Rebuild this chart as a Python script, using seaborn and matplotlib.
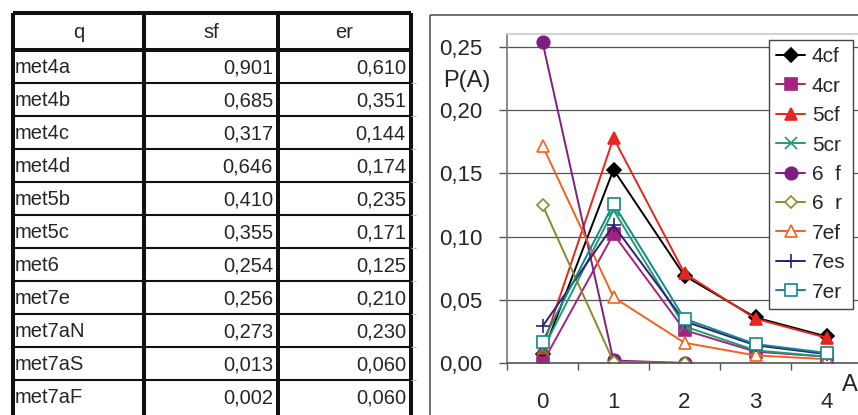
import numpy as np
import pandas as pd
import matplotlib
matplotlib.use("Agg")
import matplotlib.pyplot as plt
from matplotlib.patches import Rectangle
import seaborn as sns

# table data
q_names = ["met4a", "met4b", "met4c", "met4d", "met5b", "met5c",
           "met6", "met7e", "met7aN", "met7aS", "met7aF"]
sf_vals = ["0,901", "0,685", "0,317", "0,646", "0,410", "0,355",
           "0,254", "0,256", "0,273", "0,013", "0,002"]
er_vals = ["0,610", "0,351", "0,144", "0,174", "0,235", "0,171",
           "0,125", "0,210", "0,230", "0,060", "0,060"]

# chart data: P(A) per A
a_vals = [0, 1, 2, 3, 4]
p_4cf = [0.007, 0.153, 0.069, 0.036, 0.021]
p_4cr = [0.000, 0.102, 0.026, 0.009, 0.005]
p_5cf = [0.012, 0.178, 0.071, 0.035, 0.020]
p_5cr = [0.010, 0.121, 0.029, 0.010, 0.005]
p_6f = [0.254, 0.002, 0.000, np.nan, np.nan]
p_6r = [0.125, 0.001, 0.000, np.nan, np.nan]
p_7ef = [0.172, 0.052, 0.016, 0.006, 0.003]
p_7es = [0.029, 0.109, 0.033, 0.014, 0.007]
p_7er = [0.017, 0.126, 0.035, 0.015, 0.008]

series = [
    ("4cf", p_4cf, "#000000", "D", True, 7),
    ("4cr", p_4cr, "#A3237F", "s", True, 8),
    ("5cf", p_5cf, "#E8251C", "^", True, 9),
    ("5cr", p_5cr, "#1E9E70", "x", True, 8),
    ("6  f", p_6f, "#7D1F80", "o", True, 9),
    ("6  r", p_6r, "#8A8A2A", "D", False, 6),
    ("7ef", p_7ef, "#F2621F", "^", False, 9),
    ("7es", p_7es, "#2E207A", "+", True, 10),
    ("7er", p_7er, "#11898C", "s", False, 9),
]

sns.set_theme(style="white")
plt.rcParams["font.family"] = ["Liberation Sans", "DejaVu Sans"]

W, H = 858, 415
fig = plt.figure(figsize=(W / 100, H / 100), dpi=100)

# ---- table drawn in pixel coordinates
tab = fig.add_axes([0, 0, 1, 1])
tab.set_xlim(0, W)
tab.set_ylim(H, 0)
tab.axis("off")

col_x = [13, 144, 278, 411]
head_top, head_bot = 13, 50
row_h = 33.0
row_lines = [head_bot + row_h * (i + 1) for i in range(len(q_names) - 1)]

tab.vlines(col_x, head_top, H, color="#111111", lw=2.9)
tab.hlines([head_top, head_bot], col_x[0], col_x[-1], color="#111111", lw=2.9)
tab.hlines(row_lines, col_x[0], col_x[-1], color="#111111", lw=1.5)
tab.hlines(row_lines, col_x[-1], 416, color="#bbbbbb", lw=0.8)

fs_tab = 14.5
for cx, txt in zip([(col_x[0] + col_x[1]) / 2, (col_x[1] + col_x[2]) / 2,
                    (col_x[2] + col_x[3]) / 2], ["q", "sf", "er"]):
    tab.text(cx, (head_top + head_bot) / 2 + 1, txt, ha="center", va="center",
             fontsize=fs_tab)
for i, (nm, sf, er) in enumerate(zip(q_names, sf_vals, er_vals)):
    cy = head_bot + row_h * i + row_h / 2 + 1
    tab.text(col_x[0] + 2, cy, nm, ha="left", va="center", fontsize=fs_tab)
    tab.text(col_x[2] - 5, cy, sf, ha="right", va="center", fontsize=fs_tab)
    tab.text(col_x[3] - 5, cy, er, ha="right", va="center", fontsize=fs_tab)

# chart outer frame
tab.add_patch(Rectangle((430, 15), 600, 600, fill=False, edgecolor="#555555", lw=1.2))

# ---- line chart
x0, x1 = 507, 862
y_zero, y_top = 363, 363 - 316 * 0.26 / 0.25
ax = fig.add_axes([x0 / W, (H - y_zero) / H, (x1 - x0) / W, (y_zero - y_top) / H])

rows = []
for name, vals, *_ in series:
    for a, v in zip(a_vals, vals):
        rows.append({"A": a, "P": v, "s": name})
df = pd.DataFrame(rows).dropna()

for name, vals, color, mk, filled, ms in series:
    d = df[df["s"] == name]
    kw = dict(marker=mk, markersize=ms, markeredgecolor=color, markeredgewidth=1.2)
    kw["markerfacecolor"] = color if filled else "white"
    sns.lineplot(data=d, x="A", y="P", ax=ax, color=color, lw=1.4, label=name, **kw)

ax.set_xlim(-0.5, 4.5)
ax.set_ylim(0, 0.26)
ax.set_xlabel("")
ax.set_ylabel("")
ax.set_yticks([0, 0.05, 0.10, 0.15, 0.20, 0.25])
ax.set_yticklabels(["0,00", "0,05", "0,10", "0,15", "0,20", "0,25"], fontsize=16)
ax.set_xticks(a_vals)
ax.set_xticklabels([str(a) for a in a_vals], fontsize=16)
ax.set_xticks([-0.5, 0.5, 1.5, 2.5, 3.5], minor=True)
ax.tick_params(axis="x", which="major", length=0, pad=21)
ax.tick_params(axis="x", which="minor", length=5, width=1, color="#555555", direction="out", bottom=True)
ax.tick_params(axis="y", length=6, width=1, color="#555555", direction="out", left=True, pad=12)
ax.yaxis.grid(True, color="#555555", lw=0.9)
ax.set_axisbelow(True)
ax.spines["left"].set_color("#777777")
ax.spines["bottom"].set_color("#555555")
ax.spines["top"].set_color("#cccccc")
ax.spines["right"].set_visible(False)
for s in ["left", "bottom"]:
    ax.spines[s].set_linewidth(1.2)

fig.text(467 / W, 1 - 81 / H, "P(A)", ha="center", va="center", fontsize=17)
fig.text(842 / W, 1 - 385 / H, "A", ha="left", va="center", fontsize=17)

leg = ax.legend(loc="upper left", bbox_to_anchor=(769 / W, 1 - 40 / H),
                bbox_transform=fig.transFigure, fontsize=15, frameon=True,
                fancybox=False, edgecolor="#444444", framealpha=1,
                handlelength=1.4, handletextpad=0.3, labelspacing=0.5,
                borderpad=0.35, borderaxespad=0)
leg.get_frame().set_linewidth(1.0)

fig.savefig("out.png", dpi=100)
